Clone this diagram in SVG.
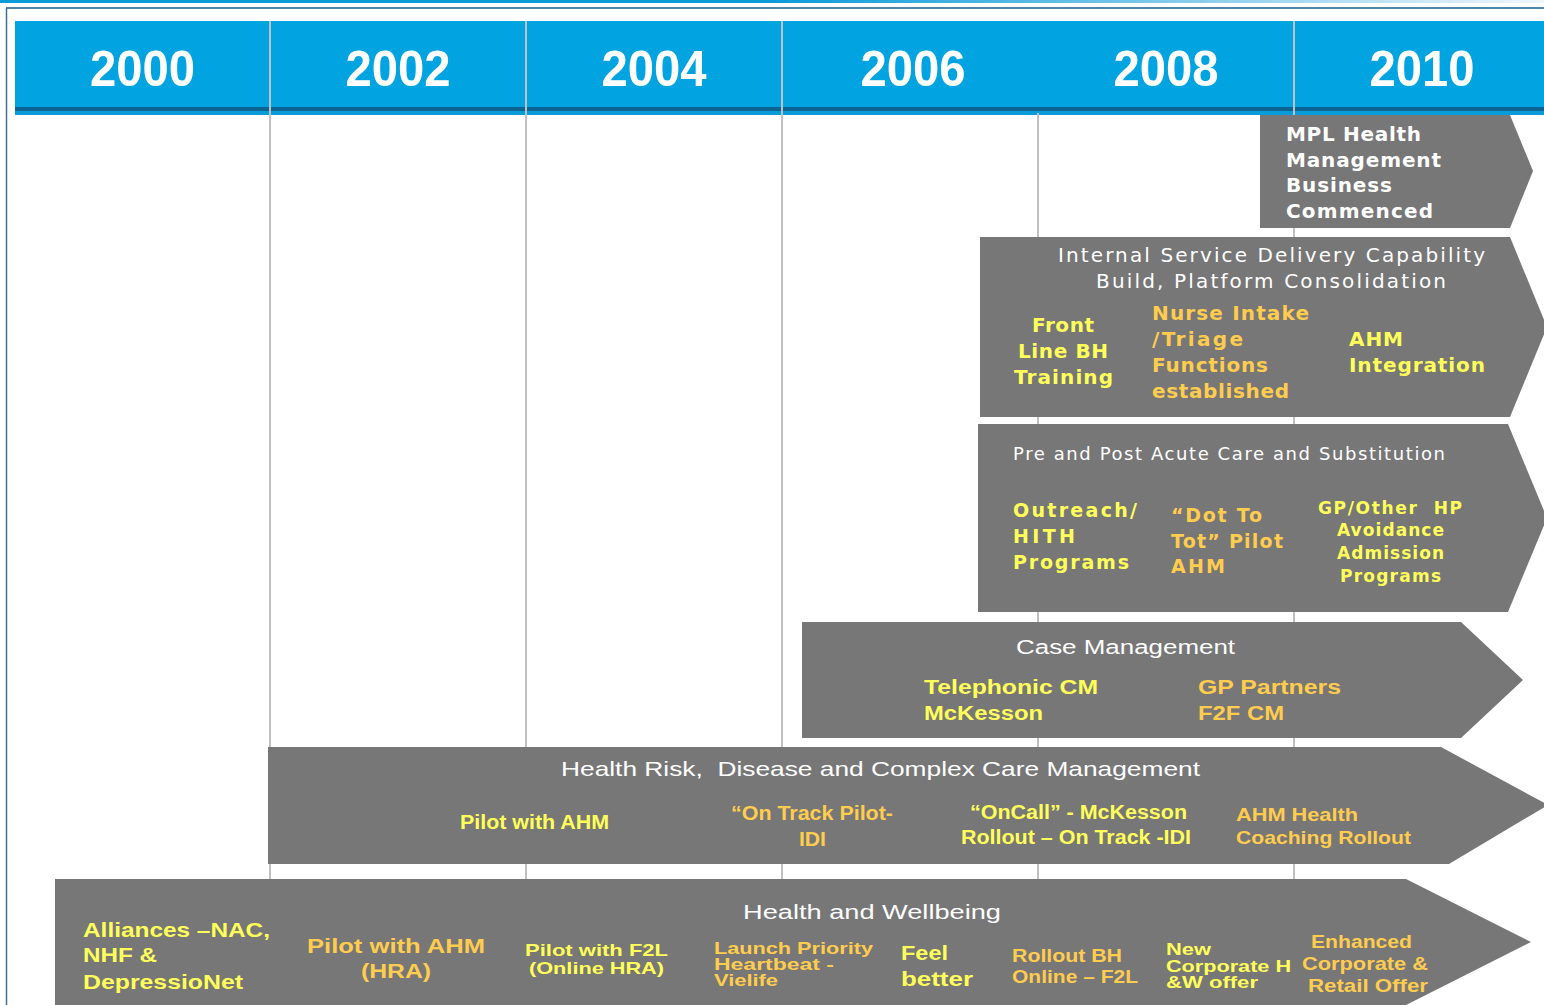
<svg xmlns="http://www.w3.org/2000/svg" width="1544" height="1005" viewBox="0 0 1544 1005">
<defs>
<linearGradient id="topg" x1="0" y1="0" x2="1" y2="0">
<stop offset="0" stop-color="#0b9bd8"/>
<stop offset="0.5" stop-color="#0b9bd8"/>
<stop offset="1" stop-color="#f0f6fb"/>
</linearGradient>
<style>
.shape{fill:#777777}
.grid{stroke:#c0c0c0;stroke-width:2}
.yr{font-family:"Liberation Sans",Arial,sans-serif;font-weight:bold;font-size:50px;fill:#ffffff;text-anchor:middle}
.v{font-family:"DejaVu Sans",Verdana,sans-serif}
.n{font-family:"Liberation Sans",Arial,sans-serif}
.b{font-weight:bold}
.w{fill:#ffffff}
.y{fill:#ffff5a}
.g{fill:#ffcc4e}
.m{text-anchor:middle}
.pre{white-space:pre}
</style>
</defs>
<rect x="0" y="0" width="1544" height="1005" fill="#ffffff"/>
<rect x="0" y="0" width="1544" height="3" fill="url(#topg)"/>
<line x1="6" y1="8" x2="1544" y2="8" stroke="#4f84ab" stroke-width="2"/>
<line x1="6.5" y1="8" x2="6.5" y2="1005" stroke="#3f6f95" stroke-width="1.5"/>

<g id="header">
<rect x="15" y="21" width="1529" height="94" fill="#01a4e1"/>
<rect x="15" y="107" width="1529" height="4" fill="#0b6494"/>
<rect x="15" y="111" width="1529" height="4" fill="#0a9cda"/>
</g>

<g id="grid">
<line class="grid" x1="270" y1="21" x2="270" y2="1005"/>
<line class="grid" x1="526" y1="21" x2="526" y2="1005"/>
<line class="grid" x1="782" y1="21" x2="782" y2="1005"/>
<line class="grid" x1="1038" y1="113" x2="1038" y2="1005"/>
<line class="grid" x1="1294" y1="21" x2="1294" y2="1005"/>
</g>

<g id="years">
<text class="yr" x="142.5" y="86" textLength="105" lengthAdjust="spacingAndGlyphs">2000</text>
<text class="yr" x="398" y="86" textLength="105" lengthAdjust="spacingAndGlyphs">2002</text>
<text class="yr" x="654" y="86" textLength="105" lengthAdjust="spacingAndGlyphs">2004</text>
<text class="yr" x="913" y="86" textLength="105" lengthAdjust="spacingAndGlyphs">2006</text>
<text class="yr" x="1166" y="86" textLength="105" lengthAdjust="spacingAndGlyphs">2008</text>
<text class="yr" x="1422" y="86" textLength="105" lengthAdjust="spacingAndGlyphs">2010</text>
</g>

<g id="mpl">
<polygon class="shape" points="1260,115 1510,115 1533,171 1510,228 1260,228"/>
<g class="v b w" font-size="20">
<text x="1286" y="141" textLength="135">MPL Health</text>
<text x="1286" y="167" textLength="155">Management</text>
<text x="1286" y="192" textLength="106">Business</text>
<text x="1286" y="218" textLength="147">Commenced</text>
</g>
</g>

<g id="internal">
<polygon class="shape" points="980,237 1510,237 1547,327 1510,417 980,417"/>
<g class="v w m" font-size="20">
<text x="1271.5" y="262" textLength="427">Internal Service Delivery Capability</text>
<text x="1271" y="288" textLength="350">Build, Platform Consolidation</text>
</g>
<g class="v b y m" font-size="20">
<text x="1063" y="332" textLength="62">Front</text>
<text x="1063" y="358" textLength="90">Line BH</text>
<text x="1063.5" y="384" textLength="99">Training</text>
</g>
<g class="v b g" font-size="20">
<text x="1152" y="320" textLength="157">Nurse Intake</text>
<text x="1152" y="346" textLength="91">/Triage</text>
<text x="1152" y="372" textLength="116">Functions</text>
<text x="1152" y="398" textLength="137">established</text>
</g>
<g class="v b y" font-size="20">
<text x="1349" y="346" textLength="54">AHM</text>
<text x="1349" y="372" textLength="136">Integration</text>
</g>
</g>

<g id="preacute">
<polygon class="shape" points="978,424 1508,424 1547,518 1508,612 978,612"/>
<text class="v w" font-size="18" x="1013" y="460" textLength="432">Pre and Post Acute Care and Substitution</text>
<g class="v b y" font-size="19">
<text x="1013" y="517" textLength="124">Outreach/</text>
<text x="1013" y="543" textLength="62">HITH</text>
<text x="1013" y="569" textLength="116">Programs</text>
</g>
<g class="v b g" font-size="19">
<text x="1171" y="522" textLength="91">“Dot To</text>
<text x="1171" y="548" textLength="112">Tot” Pilot</text>
<text x="1171" y="573" textLength="54">AHM</text>
</g>
<g class="v b y m" font-size="17">
<text class="pre" x="1390" y="514" textLength="144">GP/Other  HP</text>
<text x="1390.5" y="536" textLength="107">Avoidance</text>
<text x="1390.5" y="559" textLength="107">Admission</text>
<text x="1390.5" y="582" textLength="101">Programs</text>
</g>
</g>

<g id="casemgmt">
<polygon class="shape" points="802,622 1461,622 1523,680 1461,738 802,738"/>
<text class="n w m" font-size="20" x="1125.5" y="654" textLength="219" lengthAdjust="spacingAndGlyphs">Case Management</text>
<g class="n b y" font-size="20">
<text x="924" y="694" textLength="174" lengthAdjust="spacingAndGlyphs">Telephonic CM</text>
<text x="924" y="720" textLength="119" lengthAdjust="spacingAndGlyphs">McKesson</text>
</g>
<g class="n b g" font-size="20">
<text x="1198" y="694" textLength="143" lengthAdjust="spacingAndGlyphs">GP Partners</text>
<text x="1198" y="720" textLength="86" lengthAdjust="spacingAndGlyphs">F2F CM</text>
</g>
</g>

<g id="healthrisk">
<polygon class="shape" points="268,747 1441,747 1548,805 1449,864 268,864"/>
<text class="n w m pre" font-size="21" x="880.5" y="776" textLength="639" lengthAdjust="spacingAndGlyphs">Health Risk,  Disease and Complex Care Management</text>
<text class="n b y m" font-size="20" x="534.5" y="829" textLength="149" lengthAdjust="spacingAndGlyphs">Pilot with AHM</text>
<g class="n b g m" font-size="20">
<text x="812" y="820" textLength="162" lengthAdjust="spacingAndGlyphs">“On Track Pilot-</text>
<text x="812.5" y="846" textLength="27" lengthAdjust="spacingAndGlyphs">IDI</text>
</g>
<g class="n b y m" font-size="20">
<text x="1078.5" y="819" textLength="217" lengthAdjust="spacingAndGlyphs">“OnCall” - McKesson</text>
<text x="1076" y="844" textLength="230" lengthAdjust="spacingAndGlyphs">Rollout – On Track -IDI</text>
</g>
<g class="n b g" font-size="19">
<text x="1236" y="821" textLength="122" lengthAdjust="spacingAndGlyphs">AHM Health</text>
<text x="1236" y="844" textLength="175" lengthAdjust="spacingAndGlyphs">Coaching Rollout</text>
</g>
</g>

<g id="wellbeing">
<polygon class="shape" points="55,879 1406,879 1531,942 1406,1005 55,1005"/>
<text class="n w m" font-size="20" x="872" y="919" textLength="258" lengthAdjust="spacingAndGlyphs">Health and Wellbeing</text>
<g class="n b y" font-size="21">
<text x="83" y="937" textLength="187" lengthAdjust="spacingAndGlyphs">Alliances –NAC,</text>
<text x="83" y="962" textLength="74" lengthAdjust="spacingAndGlyphs">NHF &amp;</text>
<text x="83" y="989" textLength="160" lengthAdjust="spacingAndGlyphs">DepressioNet</text>
</g>
<g class="n b g m" font-size="20">
<text x="396" y="953" textLength="178" lengthAdjust="spacingAndGlyphs">Pilot with AHM</text>
<text x="396" y="978" textLength="70" lengthAdjust="spacingAndGlyphs">(HRA)</text>
</g>
<g class="n b y m" font-size="17">
<text x="596.5" y="956" textLength="143" lengthAdjust="spacingAndGlyphs">Pilot with F2L</text>
<text x="596.5" y="974" textLength="135" lengthAdjust="spacingAndGlyphs">(Online HRA)</text>
</g>
<g class="n b g" font-size="16.5">
<text x="714" y="954" textLength="159" lengthAdjust="spacingAndGlyphs">Launch Priority</text>
<text x="714" y="970" textLength="120" lengthAdjust="spacingAndGlyphs">Heartbeat -</text>
<text x="714" y="986" textLength="64" lengthAdjust="spacingAndGlyphs">Vielife</text>
</g>
<g class="n b y" font-size="20">
<text x="901" y="960" textLength="47" lengthAdjust="spacingAndGlyphs">Feel</text>
<text x="901" y="986" textLength="72" lengthAdjust="spacingAndGlyphs">better</text>
</g>
<g class="n b g" font-size="19">
<text x="1012" y="962" textLength="110" lengthAdjust="spacingAndGlyphs">Rollout BH</text>
<text x="1012" y="983" textLength="126" lengthAdjust="spacingAndGlyphs">Online – F2L</text>
</g>
<g class="n b y" font-size="16.5">
<text x="1166" y="955" textLength="45" lengthAdjust="spacingAndGlyphs">New</text>
<text x="1166" y="972" textLength="125" lengthAdjust="spacingAndGlyphs">Corporate H</text>
<text x="1166" y="988" textLength="92" lengthAdjust="spacingAndGlyphs">&amp;W offer</text>
</g>
<g class="n b g m" font-size="19">
<text x="1361.5" y="948" textLength="101" lengthAdjust="spacingAndGlyphs">Enhanced</text>
<text x="1365" y="970" textLength="126" lengthAdjust="spacingAndGlyphs">Corporate &amp;</text>
<text x="1368" y="992" textLength="120" lengthAdjust="spacingAndGlyphs">Retail Offer</text>
</g>
</g>
</svg>
